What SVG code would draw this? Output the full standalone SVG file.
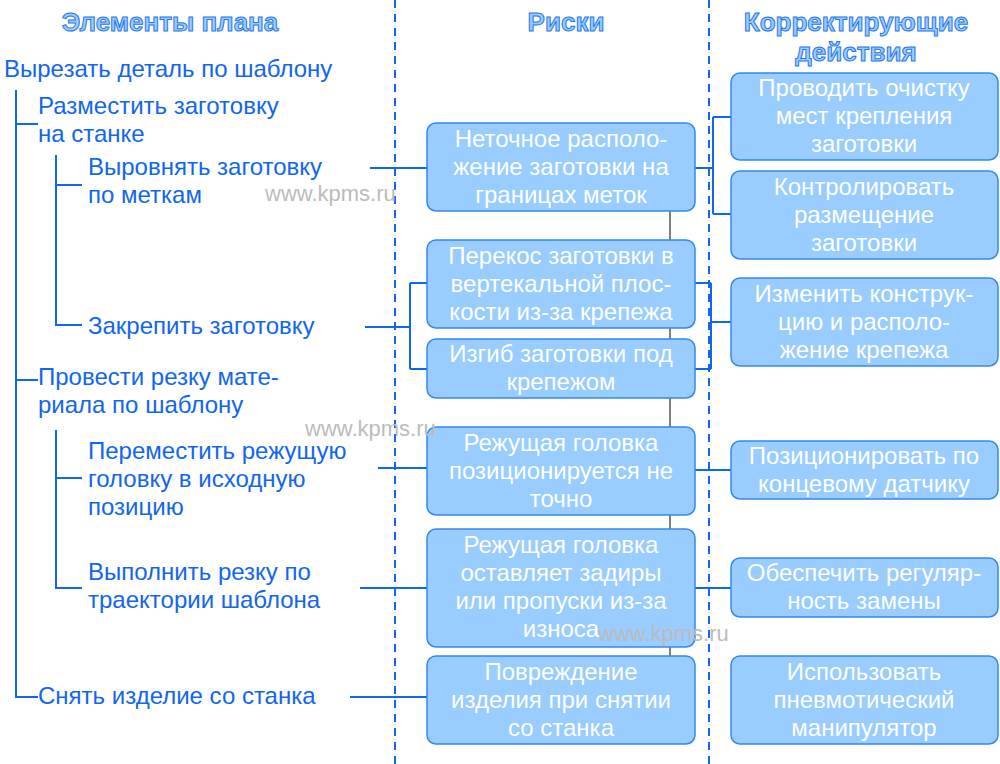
<svg xmlns="http://www.w3.org/2000/svg" width="1000" height="764" viewBox="0 0 1000 764">
<style>
text{font-family:"Liberation Sans",Arial,sans-serif;font-size:24px}
.h{font-weight:bold;font-size:26px;fill:#9cccff;stroke:#2277ee;stroke-width:1;text-anchor:middle}
.l{fill:#1166ee}
.b rect{fill:#99ccff;stroke:#3388ee;stroke-width:1.5}
.b text{fill:#fff;text-anchor:middle}
.c{stroke:#1166ee;stroke-width:2;fill:none}
.d{stroke:#1166ee;stroke-width:2;stroke-dasharray:8,6}
.w{fill:#bbb;font-size:22px}
</style>
<rect width="1000" height="764" fill="#fff"/>
<line class="d" x1="395" y1="0" x2="395" y2="764"/>
<line class="d" x1="709" y1="0" x2="709" y2="764"/>
<text class="h" x="170" y="31">Элементы плана</text>
<text class="h" x="566" y="31">Риски</text>
<text class="h" x="856" y="31">Корректирующие</text>
<text class="h" x="856" y="61">действия</text>
<line x1="670" y1="211" x2="670" y2="656" stroke="#000" stroke-width="1"/>
<g id="connectors" class="c">
<path d="M16 90V697H38M16 124H38M56 155V325H82M56 185H82M16 380H38M56 430V588H82M56 478H82"/>
<path d="M370 168H427M365 327H410M410 283V369M410 283H427M410 369H427M378 468H427M360 588H427M350 697H427"/>
<path d="M695 168H713M713 117V214M713 117H731M713 214H731M695 283H711M695 369H711M711 283V369M711 322H731M695 470H731M695 588H731"/>
</g>
<g id="left" class="l">
<text x="4" y="77">Вырезать деталь по шаблону</text>
<text x="38" y="114">Разместить заготовку</text><text x="38" y="142">на станке</text>
<text x="88" y="175">Выровнять заготовку</text><text x="88" y="203">по меткам</text>
<text x="88" y="334">Закрепить заготовку</text>
<text x="38" y="385">Провести резку мате-</text><text x="38" y="413">риала по шаблону</text>
<text x="88" y="459">Переместить режущую</text><text x="88" y="487">головку в исходную</text><text x="88" y="515">позицию</text>
<text x="88" y="580">Выполнить резку по</text><text x="88" y="608">траектории шаблона</text>
<text x="38" y="704">Снять изделие со станка</text>
</g>
<g id="r1" class="b"><rect x="427" y="123" width="268" height="88" rx="9"/><text x="561" y="147">Неточное располо-</text><text x="561" y="175">жение заготовки на</text><text x="561" y="203">границах меток</text></g>
<g id="r2" class="b"><rect x="427" y="240" width="268" height="88" rx="9"/><text x="561" y="264">Перекос заготовки в</text><text x="561" y="292">вертекальной плос-</text><text x="561" y="320">кости из-за крепежа</text></g>
<g id="r3" class="b"><rect x="427" y="339" width="268" height="59" rx="9"/><text x="561" y="362">Изгиб заготовки под</text><text x="561" y="390">крепежом</text></g>
<g id="r4" class="b"><rect x="427" y="427" width="268" height="88" rx="9"/><text x="561" y="451">Режущая головка</text><text x="561" y="479">позиционируется не</text><text x="561" y="507">точно</text></g>
<g id="r5" class="b"><rect x="427" y="529" width="268" height="118" rx="9"/><text x="561" y="553">Режущая головка</text><text x="561" y="581">оставляет задиры</text><text x="561" y="609">или пропуски из-за</text><text x="561" y="637">износа</text></g>
<g id="r6" class="b"><rect x="427" y="656" width="268" height="88" rx="9"/><text x="561" y="680">Повреждение</text><text x="561" y="708">изделия при снятии</text><text x="561" y="736">со станка</text></g>
<g id="a1" class="b"><rect x="731" y="73" width="267" height="87" rx="9"/><text x="864" y="96">Проводить очистку</text><text x="864" y="124">мест крепления</text><text x="864" y="152">заготовки</text></g>
<g id="a2" class="b"><rect x="731" y="171" width="267" height="88" rx="9"/><text x="864" y="195">Контролировать</text><text x="864" y="223">размещение</text><text x="864" y="251">заготовки</text></g>
<g id="a3" class="b"><rect x="731" y="278" width="267" height="88" rx="9"/><text x="864" y="302">Изменить конструк-</text><text x="864" y="330">цию и располо-</text><text x="864" y="358">жение крепежа</text></g>
<g id="a4" class="b"><rect x="731" y="441" width="267" height="58" rx="9"/><text x="864" y="464">Позиционировать по</text><text x="864" y="492">концевому датчику</text></g>
<g id="a5" class="b"><rect x="731" y="558" width="267" height="59" rx="9"/><text x="864" y="581">Обеспечить регуляр-</text><text x="864" y="609">ность замены</text></g>
<g id="a6" class="b"><rect x="731" y="656" width="267" height="88" rx="9"/><text x="864" y="680">Использовать</text><text x="864" y="708">пневмотический</text><text x="864" y="736">манипулятор</text></g>
<text class="w" x="265" y="201">www.kpms.ru</text>
<text class="w" x="305" y="436">www.kpms.ru</text>
<text class="w" x="598" y="641">www.kpms.ru</text>
</svg>
